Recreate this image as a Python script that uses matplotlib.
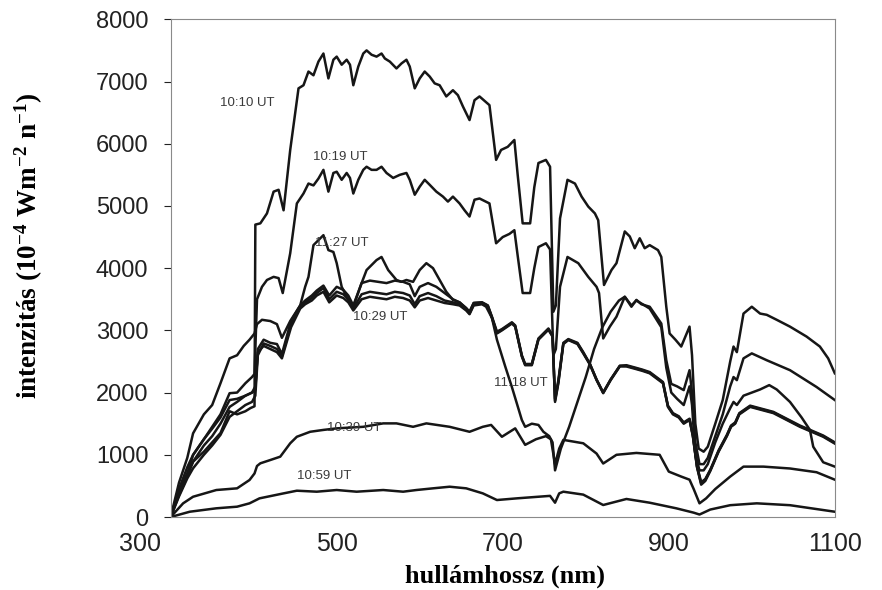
import matplotlib
matplotlib.use('Agg')
from matplotlib import pyplot as plt
import matplotlib.transforms as mtransforms

plt.rcParams['font.family'] = 'Liberation Sans'
plt.rcParams['mathtext.fontset'] = 'custom'
plt.rcParams['mathtext.rm'] = 'Liberation Serif:bold'
plt.rcParams['mathtext.default'] = 'rm'

# 10:10 UT
wl_1010 = [300, 310, 320, 327, 340, 350, 360, 371, 380, 390, 396, 401, 402, 408, 416, 424, 430, 436, 444, 454,
           460, 466, 472, 478, 484, 490, 496, 500, 506, 512, 516, 520, 526, 532, 536, 542, 548, 554, 558, 564,
           572, 578, 584, 588, 594, 600, 606, 612, 618, 624, 632, 640, 646, 652, 660, 666, 672, 684, 692, 698,
           706, 714, 718, 724, 733, 738, 743, 752, 757, 761, 764, 769, 778, 787, 795, 803, 811, 815, 822, 831,
           837, 847, 853, 859, 865, 871, 877, 887, 891, 897, 901, 908, 915, 920, 925, 928, 932, 936, 942, 947,
           956, 965, 974, 978, 982, 990, 1000, 1010, 1018, 1030, 1046, 1066, 1082, 1092, 1100]
val_1010 = [0, 400, 700, 890, 1050, 1200, 1350, 1700, 1650, 1700, 1750, 1780, 4700, 4720, 4880, 5230, 5260, 4930, 5900, 6890,
            6940, 7160, 7100, 7320, 7450, 7050, 7350, 7400, 7270, 7350, 7270, 6940, 7240, 7450, 7500, 7430, 7400, 7450, 7370, 7320,
            7210, 7290, 7350, 7240, 6890, 7050, 7160, 7080, 6970, 6940, 6760, 6860, 6780, 6600, 6380, 6700, 6760, 6620, 5740, 5900,
            5950, 6060, 5500, 4720, 4720, 5300, 5690, 5740, 5630, 3300, 3400, 4800, 5420, 5360, 5150, 4990, 4880, 4770, 3730, 3970,
            4080, 4590, 4510, 4320, 4480, 4320, 4370, 4290, 4180, 3380, 2950, 2850, 2740, 2900, 3060, 2600, 1500, 1100, 1050, 1130,
            1500, 1880, 2500, 2740, 2650, 3270, 3380, 3270, 3250, 3170, 3060, 2900, 2740, 2550, 2310]

# 10:19 UT
wl_1019 = [300, 310, 320, 327, 340, 350, 360, 371, 380, 390, 398, 401, 404, 410, 416, 424, 430, 435, 444, 452,
           460, 466, 472, 478, 484, 490, 496, 500, 506, 512, 516, 520, 526, 532, 536, 542, 548, 554, 560, 568,
           576, 584, 588, 594, 600, 606, 612, 620, 628, 634, 640, 648, 654, 660, 666, 672, 684, 692, 700, 708,
           714, 718, 724, 733, 738, 743, 752, 757, 761, 764, 769, 778, 791, 803, 813, 816, 821, 829, 837, 847,
           855, 861, 867, 877, 891, 897, 903, 910, 918, 925, 928, 932, 937, 942, 947, 956, 965, 974, 978, 982,
           990, 1000, 1018, 1046, 1078, 1100]
val_1019 = [0, 450, 800, 1000, 1250, 1450, 1650, 1990, 2000, 2150, 2250, 2300, 3500, 3700, 3810, 3860, 3840, 3600, 4240, 5040,
            5200, 5360, 5330, 5440, 5580, 5230, 5530, 5550, 5420, 5530, 5450, 5200, 5420, 5580, 5630, 5580, 5580, 5630, 5530, 5450,
            5500, 5530, 5420, 5180, 5310, 5420, 5340, 5230, 5150, 5070, 5150, 5040, 4930, 4830, 5100, 5120, 5040, 4400, 4500, 4550,
            4610, 4200, 3600, 3600, 4000, 4340, 4400, 4300, 2600, 2700, 3700, 4180, 4080, 3860, 3700, 3600, 2870, 3060, 3220, 3540,
            3380, 3490, 3420, 3380, 3110, 2520, 2140, 2100, 2040, 2360, 2000, 1200, 850, 850, 950, 1300, 1650, 2100, 2250, 2200,
            2550, 2630, 2520, 2360, 2090, 1880]

# 11:27 UT
wl_1127 = [300, 310, 320, 327, 340, 350, 360, 371, 380, 388, 395, 401, 404, 410, 420, 428, 434, 444, 456, 462,
           466, 472, 478, 484, 490, 496, 500, 506, 514, 520, 530, 536, 548, 554, 562, 572, 578, 584, 592, 600,
           608, 616, 624, 632, 640, 648, 656, 660, 665, 675, 682, 687, 693, 699, 711, 715, 723, 727, 735, 743,
           755, 760, 763, 767, 773, 779, 790, 797, 805, 813, 821, 830, 841, 849, 860, 868, 877, 893, 899, 905,
           912, 918, 925, 929, 934, 939, 944, 950, 960, 970, 975, 980, 985, 998, 1026, 1058, 1086, 1100]
val_1127 = [0, 550, 950, 1345, 1650, 1800, 2150, 2550, 2600, 2750, 2850, 2950, 3100, 3170, 3150, 3100, 2880, 3150, 3400, 3700,
            3860, 4370, 4450, 4530, 4290, 4260, 4080, 3700, 3490, 3380, 3760, 3970, 4130, 4180, 3970, 3810, 3780, 3810, 3780, 3970,
            4080, 4000, 3810, 3620, 3490, 3450, 3360, 3300, 3440, 3450, 3400, 3220, 2980, 3020, 3130, 3080, 2600, 2460, 2460, 2870,
            3030, 2920, 1900, 2200, 2800, 2860, 2800, 2650, 2460, 2210, 2000, 2210, 2430, 2440, 2400, 2370, 2330, 2170, 1790, 1670,
            1620, 1520, 1580, 1320, 820, 560, 610, 760, 1070, 1320, 1470, 1520, 1670, 1790, 1690, 1470, 1310, 1200]

# 10:29 UT and the unlabeled curve of the same group
wl_group = [300, 310, 320, 327, 340, 350, 360, 371, 380, 390, 398, 402, 405, 412, 420, 428, 434, 445, 456, 462,
            470, 476, 484, 491, 500, 508, 514, 520, 530, 540, 550, 560, 570, 580, 588, 594, 600, 610, 620, 630,
            640, 648, 656, 660, 665, 675, 682, 687, 693, 699, 711, 715, 723, 727, 735, 743, 755, 760, 763, 767,
            773, 779, 790, 797, 805, 813, 821, 830, 841, 849, 860, 868, 877, 893, 899, 905, 912, 918, 925, 929,
            934, 939, 944, 950, 960, 970, 975, 980, 985, 998, 1026, 1058, 1086, 1100]
val_1029 = [0, 330, 620, 783, 1000, 1150, 1320, 1610, 1700, 1800, 1850, 1950, 2600, 2790, 2750, 2700, 2580, 3100, 3380, 3450,
            3520, 3600, 3680, 3500, 3620, 3580, 3500, 3350, 3580, 3620, 3600, 3580, 3620, 3600, 3560, 3420, 3550, 3600, 3550, 3480,
            3450, 3420, 3330, 3270, 3420, 3430, 3380, 3200, 2950, 3000, 3110, 3060, 2580, 2440, 2440, 2850, 3010, 2900, 1850, 2150,
            2780, 2845, 2780, 2630, 2450, 2200, 1990, 2200, 2420, 2420, 2380, 2350, 2310, 2150, 1770, 1650, 1600, 1500, 1560, 1300,
            800, 520, 580, 740, 1050, 1300, 1450, 1500, 1650, 1770, 1670, 1450, 1290, 1180]
val_other = [0, 350, 650, 890, 1150, 1300, 1500, 1770, 1850, 1950, 2000, 2050, 2700, 2850, 2800, 2780, 2620, 3150, 3400, 3480,
             3560, 3640, 3720, 3560, 3700, 3650, 3560, 3400, 3760, 3800, 3780, 3760, 3800, 3780, 3740, 3550, 3700, 3760, 3700, 3600,
             3500, 3450, 3350, 3290, 3440, 3450, 3400, 3210, 2960, 3010, 3120, 3070, 2590, 2450, 2450, 2860, 3020, 2910, 1870, 2170,
             2790, 2850, 2790, 2640, 2460, 2210, 2000, 2210, 2430, 2430, 2390, 2360, 2320, 2160, 1780, 1660, 1610, 1510, 1570, 1310,
             810, 540, 600, 750, 1060, 1310, 1460, 1510, 1660, 1780, 1680, 1460, 1300, 1190]

# 11:18 UT
wl_1118 = [300, 310, 320, 327, 340, 350, 360, 371, 380, 390, 398, 402, 405, 412, 420, 428, 434, 445, 456, 462,
           470, 476, 484, 491, 500, 508, 514, 520, 530, 540, 550, 560, 570, 580, 588, 594, 600, 610, 620, 630,
           640, 648, 656, 660, 665, 675, 680, 687, 693, 703, 711, 723, 727, 735, 743, 749, 756, 760, 763, 770,
           780, 790, 800, 810, 820, 830, 840, 847, 855, 861, 871, 877, 891, 897, 903, 910, 918, 925, 928, 932,
           937, 942, 947, 956, 965, 974, 978, 982, 990, 1000, 1010, 1021, 1030, 1046, 1060, 1070, 1074, 1086, 1100]
val_1118 = [0, 380, 700, 997, 1250, 1420, 1600, 1880, 1900, 1950, 2000, 2100, 2650, 2750, 2700, 2650, 2550, 3050, 3350, 3420,
            3480, 3560, 3620, 3450, 3560, 3520, 3450, 3320, 3500, 3540, 3520, 3500, 3540, 3520, 3480, 3370, 3480, 3520, 3480, 3440,
            3420, 3400, 3320, 3260, 3400, 3420, 3380, 3200, 2850, 2420, 2090, 1560, 1450, 1500, 1480, 1370, 1300, 1200, 750, 1100,
            1450, 1850, 2250, 2700, 3050, 3300, 3480, 3540, 3400, 3480, 3400, 3350, 3050, 2400, 2000, 1900, 1800, 2100, 1800, 1000,
            750, 750, 850, 1200, 1500, 1750, 1850, 1800, 1950, 2000, 2050, 2120, 2050, 1850, 1600, 1400, 1130, 880, 810]

# 10:39 UT
wl_1039 = [300, 315, 327, 355, 380, 395, 401, 404, 408, 420, 432, 444, 452, 468, 484, 500, 532, 556, 572, 592,
           608, 636, 660, 676, 686, 699, 715, 727, 740, 752, 758, 763, 768, 773, 797, 813, 821, 837, 861, 889,
           900, 915, 925, 930, 937, 945, 956, 974, 990, 1014, 1046, 1078, 1100]
val_1039 = [0, 220, 326, 434, 461, 595, 700, 820, 863, 916, 970, 1185, 1290, 1370, 1400, 1425, 1450, 1505, 1505, 1450,
            1505, 1450, 1370, 1450, 1480, 1290, 1425, 1160, 1250, 1300, 1250, 850, 1100, 1240, 1185, 1020, 860, 1000, 1030, 1000,
            730, 650, 600, 450, 220, 300, 450, 650, 810, 810, 780, 720, 600]

# 10:59 UT
wl_1059 = [300, 323, 355, 380, 395, 407, 436, 452, 476, 500, 524, 556, 580, 596, 616, 636, 656, 676, 693, 717,
           737, 757, 763, 768, 773, 797, 821, 849, 877, 909, 930, 937, 950, 974, 1006, 1046, 1100]
val_1059 = [0, 85, 140, 166, 220, 300, 380, 423, 407, 434, 407, 434, 407, 434, 461, 487, 461, 380, 273, 300,
            320, 340, 230, 380, 407, 360, 193, 290, 230, 140, 70, 40, 120, 190, 220, 190, 85]

labels = ['10:10 UT', '10:19 UT', '11:27 UT', '10:29 UT', '11:18 UT', '10:39 UT', '10:59 UT']
label_x = [359, 472, 474, 520, 690, 488, 452]
label_y = [6650, 5790, 4400, 3220, 2150, 1425, 660]

fig = plt.figure(figsize=(8.82, 5.9), dpi=100)
ax = fig.add_axes([0.1935, 0.1237, 0.753, 0.8436])

lc = '#161616'
ax.plot(wl_1010, val_1010, color=lc, lw=1.8)
ax.plot(wl_1019, val_1019, color=lc, lw=1.8)
ax.plot(wl_1127, val_1127, color=lc, lw=1.8)
ax.plot(wl_group, val_1029, color=lc, lw=1.8)
ax.plot(wl_group, val_other, color=lc, lw=1.8)
ax.plot(wl_1118, val_1118, color=lc, lw=1.8)
ax.plot(wl_1039, val_1039, color=lc, lw=1.8)
ax.plot(wl_1059, val_1059, color=lc, lw=1.8)

for t, x, y in zip(labels, label_x, label_y):
    ax.text(x, y, t, fontsize=9.5, color='#3a3a3a', va='center', ha='left')

ax.set_xlim(300, 1100)
ax.set_ylim(0, 8000)
ax.set_xticks([300, 500, 700, 900, 1100])
ax.set_yticks(range(0, 8001, 1000))
ax.tick_params(axis='y', labelsize=17, colors='#222222', length=5, width=0.8, direction='out', pad=11)
ax.tick_params(axis='x', labelsize=18, colors='#222222', length=0, pad=11)
for s in ax.spines.values():
    s.set_color('#8a8a8a')
    s.set_linewidth(0.8)

# first x label sits left of the axis corner in the original
first = ax.get_xticklabels()[0]
first.set_ha('right')
first.set_transform(first.get_transform() + mtransforms.ScaledTranslation(-0.1, 0, fig.dpi_scale_trans))

ax.set_xlabel('hullámhossz (nm)', family='Liberation Serif', fontweight='bold', fontsize=19)
ax.xaxis.set_label_coords(0.503, -0.096)
ax.set_ylabel('intenzitás (10$^{-4}$ Wm$^{-2}$ n$^{-1}$)', family='Liberation Serif', fontweight='bold',
              fontsize=19.5)
ax.yaxis.set_label_coords(-0.189, 0.545)

plt.savefig('out.png', dpi=100)
